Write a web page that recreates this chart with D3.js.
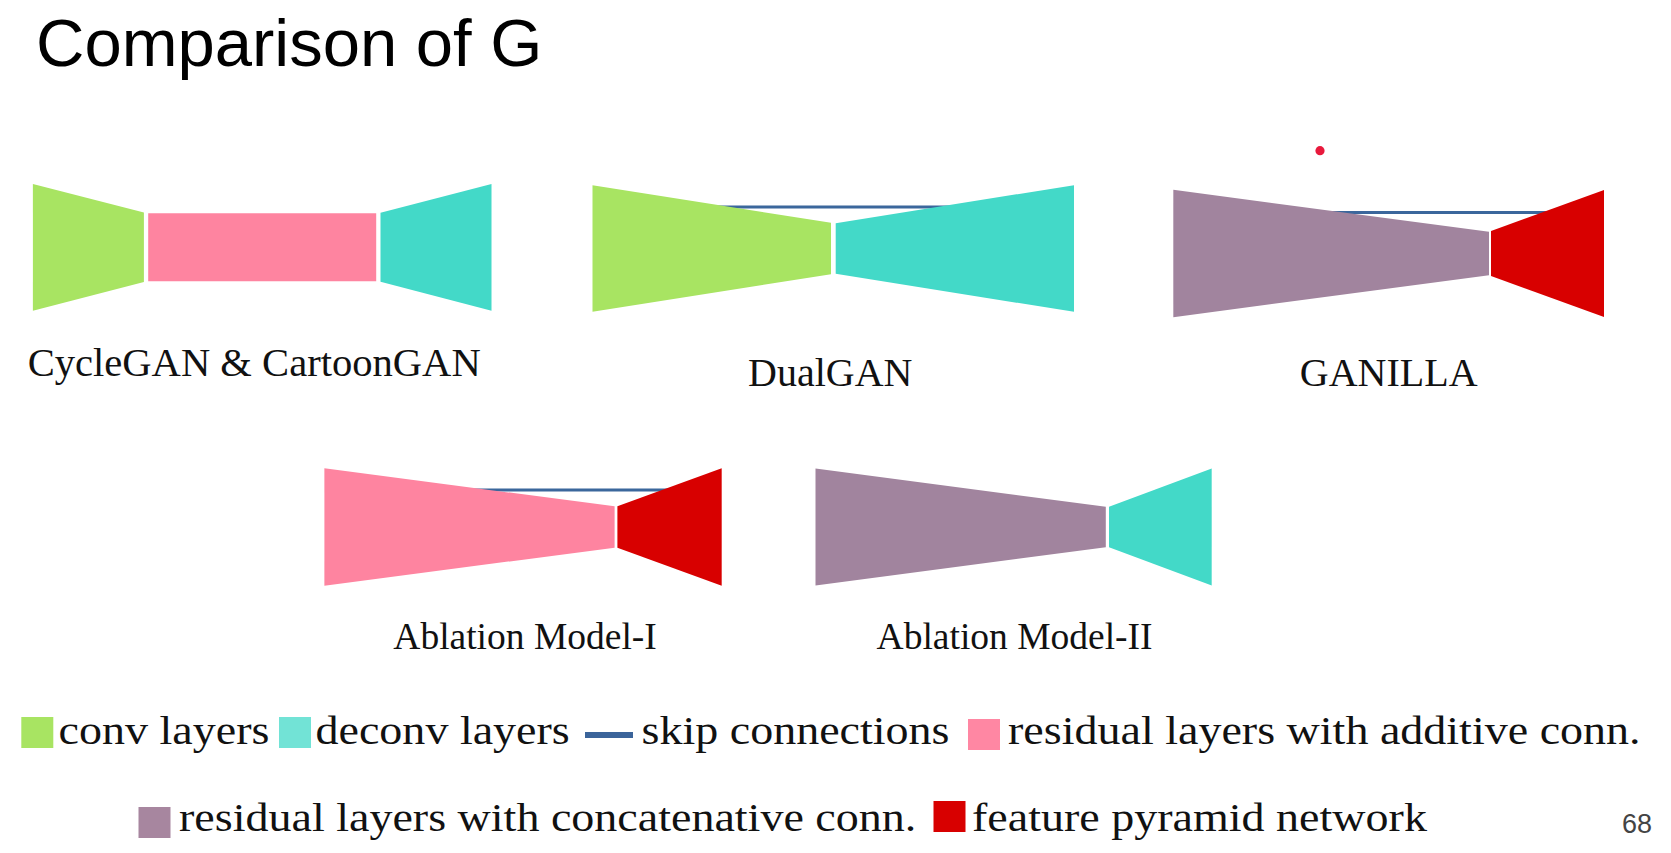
<!DOCTYPE html>
<html>
<head>
<meta charset="utf-8">
<script src="https://cdn.jsdelivr.net/npm/d3@7"></script>
<style>
  html, body { margin: 0; padding: 0; background: #fff; overflow: hidden; }
</style>
</head>
<body>
<div id="chart"></div>
<script>
// layer kinds, as listed in the legend
const layerKeys = ["conv", "deconv", "skip", "resAdd", "resConcat", "fpn"];
const layerNames = ["conv layers", "deconv layers", "skip connections",
  "residual layers with additive conn.", "residual layers with concatenative conn.",
  "feature pyramid network"];
const layerColors = ["#a8e462", "#43d9c8", "#3b679c", "#fe84a0", "#a1849e", "#d80000"];
const swatchColors = ["#a8e462", "#72e3d6", "#3b649a", "#ff87a3", "#a7869f", "#d80000"];

// generators: blocks in order, their widths, input and output heights (px of the slide)
const modelNames = ["CycleGAN & CartoonGAN", "DualGAN", "GANILLA", "Ablation Model-I", "Ablation Model-II"];
const modelLayers = [
  ["conv", "resAdd", "deconv"],
  ["conv", "deconv"],
  ["resConcat", "fpn"],
  ["resAdd", "fpn"],
  ["resConcat", "deconv"]
];
const layerWidths = [[111, 228, 111], [238.5, 238.3], [315.7, 113], [290.2, 104.3], [290.3, 102.7]];
const inHeights = [[126.7, 68, 69], [126.7, 50.7], [127.3, 45], [117.4, 41.3], [117, 40.6]];
const outHeights = [[69.4, 68, 126.7], [51.3, 126.6], [43.7, 126.8], [41.3, 117.3], [40.6, 117.2]];
// skip connection: how far above the middle it runs (null = none)
const skipRise = [null, 41.5, 41, 37, null];

// ---- layout ----
const W = 1671, H = 853;
const modelLeft = [32.9, 592.5, 1173.3, 324.4, 815.5];
const modelMid = [247.3, 248.5, 253.5, 527, 527];
const layerGap = [4.3, 4.7, 2, 2.8, 3.2];
const labelBase = [376, 386, 386, 649, 649];
const labelShift = [-8, -3, 0, 2, 1];
const labelSize = [40.6, 40, 40, 37.5, 37.5];

const legendRow = [0, 0, 0, 0, 1, 1];
const legendBase = [744, 831];
const swatchX = [21.3, 279, 585, 968, 138.5, 933.5];
const swatchY = [717, 717, 717, 719, 807, 801];
const legendTextX = [58.6, 315.5, 641.5, 1008, 179, 972];
const legendStretch = 1.18;

const serif = "'Liberation Serif', 'Times New Roman', serif";
const sans = "'Liberation Sans', Arial, sans-serif";

const svg = d3.select("#chart").append("svg")
  .attr("width", W).attr("height", H);
svg.append("rect").attr("width", W).attr("height", H).attr("fill", "#fff");

svg.append("text")
  .attr("x", 36).attr("y", 66)
  .attr("font-family", sans).attr("font-size", 67).attr("fill", "#000")
  .text("Comparison of G");

const color = d3.scaleOrdinal().domain(layerKeys).range(layerColors);
const swatch = d3.scaleOrdinal().domain(layerKeys).range(swatchColors);

modelNames.forEach((name, m) => {
  const widths = layerWidths[m];
  const gap = layerGap[m];
  const ends = d3.cumsum(widths.map(w => w + gap));
  const total = ends[ends.length - 1] - gap;
  const x = d3.scaleLinear().domain([0, total]).range([modelLeft[m], modelLeft[m] + total]);
  const y = d3.scaleLinear().domain([0, 1]).range([modelMid[m], modelMid[m] + 1]);

  const blocks = modelLayers[m].map((k, i) => ({
    k,
    x0: i === 0 ? 0 : ends[i - 1],
    x1: (i === 0 ? 0 : ends[i - 1]) + widths[i],
    hIn: inHeights[m][i],
    hOut: outHeights[m][i]
  }));

  const g = svg.append("g").attr("class", "model");

  // skip connection runs behind the blocks, from the first block to the last
  if (skipRise[m] != null) {
    const first = blocks[0], last = blocks[blocks.length - 1];
    g.append("line")
      .attr("x1", x((first.x0 + first.x1) / 2)).attr("x2", x((last.x0 + last.x1) / 2))
      .attr("y1", y(-skipRise[m])).attr("y2", y(-skipRise[m]))
      .attr("stroke", color("skip")).attr("stroke-width", 3.2);
  }

  g.selectAll("path.block").data(blocks).join("path")
    .attr("class", "block")
    .attr("d", b => d3.line()([
      [x(b.x0), y(-b.hIn / 2)], [x(b.x1), y(-b.hOut / 2)],
      [x(b.x1), y(b.hOut / 2)], [x(b.x0), y(b.hIn / 2)]
    ]) + "Z")
    .attr("fill", b => color(b.k));

  g.append("text")
    .attr("x", x(total / 2) + labelShift[m]).attr("y", labelBase[m])
    .attr("text-anchor", "middle")
    .attr("font-family", serif).attr("font-size", labelSize[m]).attr("fill", "#111")
    .text(name);
});

// laser pointer dot from the recording
svg.append("circle").attr("cx", 1320).attr("cy", 150.7).attr("r", 4.6).attr("fill", "#e8193c");

// legend
const leg = svg.append("g").attr("class", "legend");
layerKeys.forEach((k, i) => {
  if (k === "skip") {
    leg.append("line")
      .attr("x1", swatchX[i]).attr("x2", swatchX[i] + 48)
      .attr("y1", swatchY[i] + 18).attr("y2", swatchY[i] + 18)
      .attr("stroke", swatch(k)).attr("stroke-width", 6);
  } else {
    leg.append("rect")
      .attr("x", swatchX[i]).attr("y", swatchY[i])
      .attr("width", 32).attr("height", 31)
      .attr("fill", swatch(k));
  }
  const t = leg.append("text")
    .attr("x", legendTextX[i]).attr("y", legendBase[legendRow[i]])
    .attr("font-family", serif).attr("font-size", 39).attr("fill", "#111")
    .text(layerNames[i]);
  const len = t.node().getComputedTextLength();
  t.attr("textLength", len * legendStretch).attr("lengthAdjust", "spacingAndGlyphs");
});

svg.append("text")
  .attr("x", 1622).attr("y", 833)
  .attr("font-family", sans).attr("font-size", 27).attr("fill", "#444")
  .text("68");
</script>
</body>
</html>
